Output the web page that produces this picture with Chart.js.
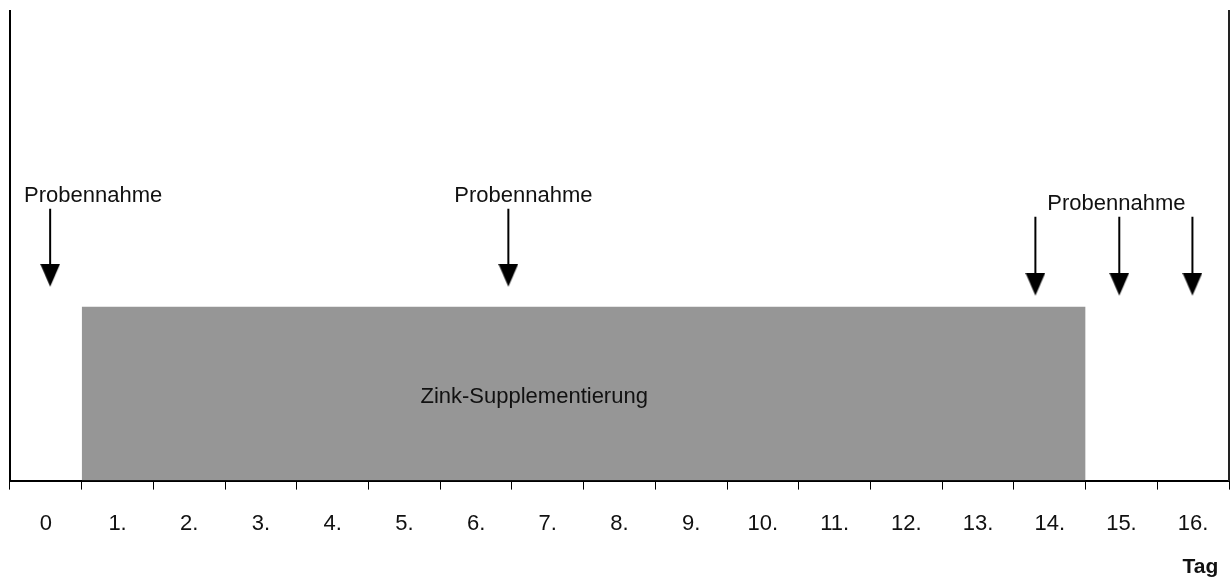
<!DOCTYPE html>
<html>
<head>
<meta charset="utf-8">
<script src="https://cdn.jsdelivr.net/npm/chart.js@4/dist/chart.umd.min.js"></script>
<style>
    body { margin: 0; background: #fff; }
    canvas { display: block; }
</style>
</head>
<body>
<canvas id="myChart" width="1231" height="580"></canvas>
<script>
// Start Data
const DAYS = ['0', '1.', '2.', '3.', '4.', '5.', '6.', '7.', '8.', '9.', '10.', '11.', '12.', '13.', '14.', '15.', '16.'];

// Zink-Supplementierung block (in day units, height in % of the plot)
const supplStart = 1;
const supplEnd = 15;
const supplHeight = 37;

// Probennahme arrows
const arrowX = [0.56, 6.95, 14.3, 15.47, 16.49];
const arrowTop = [57.9, 57.9, 56.2, 56.2, 56.2];
const arrowTip = [41.3, 41.3, 39.4, 39.4, 39.4];

// text notes
const noteText = ['Probennahme', 'Probennahme', 'Probennahme', 'Zink-Supplementierung'];
const noteX = [1.16, 7.16, 15.43, 7.31];
const noteY = [59.4, 59.3, 57.7, 16.6];
const axisTitle = 'Tag';
// !!End Data

const FONT = '"Liberation Sans", Arial, sans-serif';

// arrow head as an image, tip sits on the point centre
function makeHead(w, h) {
    const c = document.createElement('canvas');
    c.width = w;
    c.height = h * 2;
    const g = c.getContext('2d');
    g.fillStyle = '#000';
    g.beginPath();
    g.moveTo(0, 0);
    g.lineTo(w, 0);
    g.lineTo(w / 2, h);
    g.closePath();
    g.fill();
    return c;
}
const head = makeHead(20, 23);

// build line pieces with gaps between the shafts
const shaftData = [];
arrowX.forEach(function (x, i) {
    shaftData.push({ x: x, y: arrowTop[i] });
    shaftData.push({ x: x, y: arrowTip[i] + 3 });
    shaftData.push({ x: x, y: null });
});
const headData = arrowX.map(function (x, i) {
    return { x: x, y: arrowTip[i] };
});

// Start Notes plugin
const notesPlugin = {
    id: 'notes',
    afterDatasetsDraw(chart) {
        const ctx = chart.ctx;
        const xs = chart.scales.xv;
        const ys = chart.scales.y;
        ctx.save();
        ctx.fillStyle = '#111';
        ctx.font = '22px ' + FONT;
        ctx.textAlign = 'center';
        ctx.textBaseline = 'alphabetic';
        noteText.forEach(function (t, i) {
            ctx.fillText(t, xs.getPixelForValue(noteX[i]), ys.getPixelForValue(noteY[i]));
        });
        ctx.font = 'bold 21px ' + FONT;
        ctx.textAlign = 'right';
        ctx.fillText(axisTitle, xs.getPixelForValue(16.85), ys.getPixelForValue(-19.6));
        ctx.restore();
    }
};
// !!End Notes plugin

const ctx = document.getElementById('myChart').getContext('2d');

new Chart(ctx, {
    type: 'line',
    data: {
        datasets: [{
            label: 'Zink-Supplementierung',
            xAxisID: 'xv',
            yAxisID: 'y',
            data: [{ x: supplStart, y: supplHeight }, { x: supplEnd, y: supplHeight }],
            borderWidth: 0,
            borderColor: 'transparent',
            backgroundColor: '#969696',
            fill: 'origin',
            pointRadius: 0
        }, {
            label: 'Probennahme',
            xAxisID: 'xv',
            yAxisID: 'y',
            data: shaftData,
            borderColor: '#000',
            borderWidth: 2,
            spanGaps: false,
            fill: false,
            pointRadius: 0
        }, {
            label: 'Spitze',
            xAxisID: 'xv',
            yAxisID: 'y',
            data: headData,
            showLine: false,
            pointStyle: head,
            pointRadius: 10
        }]
    },
    options: {
        responsive: false,
        animation: false,
        events: [],
        layout: {
            autoPadding: false,
            padding: { left: 10, right: 2, top: 11, bottom: 22 }
        },
        scales: {
            x: {
                type: 'category',
                labels: DAYS,
                position: 'bottom',
                offset: true,
                grid: {
                    display: true,
                    offset: true,
                    drawOnChartArea: false,
                    drawTicks: true,
                    tickLength: 9,
                    color: '#000',
                    lineWidth: 1
                },
                border: { display: true, color: '#000', width: 2 },
                ticks: {
                    color: '#111',
                    padding: 21,
                    maxRotation: 0,
                    autoSkip: false,
                    font: { family: FONT, size: 22 }
                },
                // labels sit inside their day, no extra side room needed
                afterFit: function (scale) {
                    scale.paddingLeft = 0;
                    scale.paddingRight = 0;
                }
            },
            xv: { type: 'linear', min: 0, max: 17, display: false },
            y: {
                type: 'linear',
                position: 'left',
                min: 0,
                max: 100,
                grid: { display: false, drawTicks: false },
                ticks: { display: false },
                border: { display: true, color: '#000', width: 2 }
            },
            y2: {
                type: 'linear',
                position: 'right',
                min: 0,
                max: 100,
                grid: { display: false, drawTicks: false },
                ticks: { display: false },
                border: { display: true, color: '#222', width: 2 }
            }
        },
        plugins: {
            legend: { display: false },
            tooltip: { enabled: false }
        }
    },
    plugins: [notesPlugin]
});
</script>
</body>
</html>
